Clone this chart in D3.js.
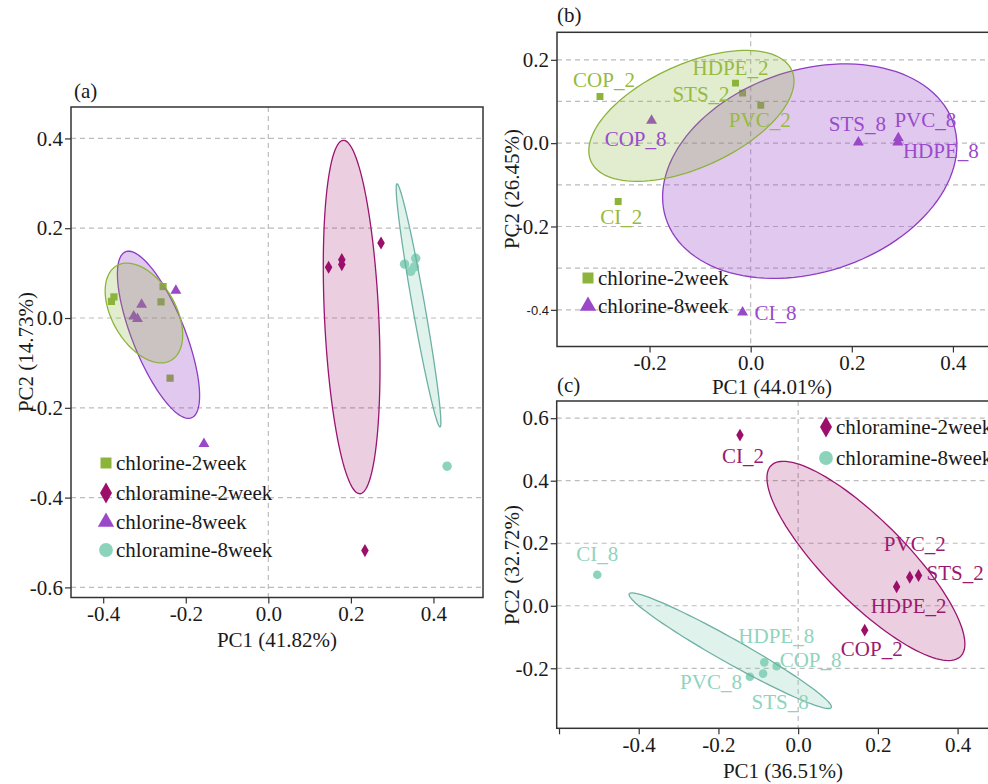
<!DOCTYPE html>
<html>
<head>
<meta charset="utf-8">
<script src="https://cdn.jsdelivr.net/npm/d3@7/dist/d3.min.js"></script>
<style>
  body { margin: 0; background: #fff; }
  svg { display: block; }
</style>
</head>
<body>
<script>
// ---- data ----
var sites = ["CI", "COP", "HDPE", "PVC", "STS"];

// (a) all four groups, PC1 41.82% / PC2 14.73%
var aChlorine2X = [-0.380, -0.374, -0.255, -0.260, -0.238];
var aChlorine2Y = [0.037, 0.047, 0.070, 0.036, -0.134];
var aChloramine2X = [0.146, 0.178, 0.178, 0.273, 0.234];
var aChloramine2Y = [0.113, 0.130, 0.119, 0.167, -0.518];
var aChlorine8X = [-0.224, -0.307, -0.326, -0.317, -0.156];
var aChlorine8Y = [0.061, 0.030, 0.004, -0.002, -0.280];
var aChloramine8X = [0.330, 0.357, 0.345, 0.354, 0.433];
var aChloramine8Y = [0.120, 0.133, 0.104, 0.114, -0.330];

// (b) chlorine, PC1 44.01% / PC2 26.45%  (order = sites)
var bChlorine2X = [-0.262, -0.298, -0.030, 0.020, -0.016];
var bChlorine2Y = [-0.140, 0.112, 0.144, 0.091, 0.120];
var bChlorine8X = [-0.016, -0.196, 0.291, 0.292, 0.213];
var bChlorine8Y = [-0.406, 0.054, 0.002, 0.012, 0.002];

// (c) chloramine, PC1 36.51% / PC2 32.72%  (order = sites)
var cChloramine2X = [-0.146, 0.167, 0.247, 0.280, 0.302];
var cChloramine2Y = [0.546, -0.078, 0.061, 0.091, 0.097];
var cChloramine8X = [-0.504, -0.054, -0.085, -0.121, -0.088];
var cChloramine8Y = [0.099, -0.193, -0.181, -0.227, -0.217];

var aXTicks = [-0.4, -0.2, 0, 0.2, 0.4];
var aYTicks = [-0.6, -0.4, -0.2, 0, 0.2, 0.4];
var bXTicks = [-0.2, 0, 0.2, 0.4];
var bYTicks = [-0.4, -0.2, 0, 0.2];
var bYGrid = [-0.4, -0.3, -0.2, -0.1, 0, 0.1, 0.2];
var cXTicks = [-0.6, -0.4, -0.2, 0, 0.2, 0.4];
var cYTicks = [-0.2, 0, 0.2, 0.4, 0.6];

// ---- styles ----
var col = {
  chlorine2: "#8db43a", chlorine8: "#9a48c8",
  chloramine2: "#9b0f6b", chloramine8: "#8bd3bb"
};
var serif = "'Liberation Serif', 'Times New Roman', serif";
var fs = 21;

var svg = d3.select("body").append("svg")
  .attr("width", 988)
  .attr("height", 784)
  .style("background", "#fff");

function fmt(d) { return d.toFixed(1); }

function makePanel(id, x, y, xTicks, yTicks, yGrid, xHideFirst) {
  var xl = x.range()[0], xr = x.range()[1], yb = y.range()[0], yt = y.range()[1];
  var g = svg.append("g");

  svg.append("clipPath").attr("id", id + "-clip")
    .append("rect")
    .attr("x", xl).attr("y", yt)
    .attr("width", xr - xl).attr("height", yb - yt);

  var plot = g.append("g").attr("clip-path", "url(#" + id + "-clip)");

  plot.selectAll("line.grid").data(yGrid).enter().append("line")
    .attr("x1", xl).attr("x2", xr)
    .attr("y1", function(d) { return y(d); })
    .attr("y2", function(d) { return y(d); })
    .attr("stroke", "#bcbcbc").attr("stroke-width", 1.2)
    .attr("stroke-dasharray", "5,4");
  plot.append("line")
    .attr("x1", x(0)).attr("x2", x(0)).attr("y1", yt).attr("y2", yb)
    .attr("stroke", "#bcbcbc").attr("stroke-width", 1.2)
    .attr("stroke-dasharray", "5,4");

  var xa = g.append("g")
    .attr("transform", "translate(0," + yb + ")")
    .call(d3.axisBottom(x).tickValues(xTicks).tickSize(6).tickPadding(3)
      .tickFormat(function(d, i) { return (xHideFirst && i === 0) ? "" : fmt(d); }));
  var ya = g.append("g")
    .attr("transform", "translate(" + xl + ",0)")
    .call(d3.axisLeft(y).tickValues(yTicks).tickSize(6).tickPadding(2).tickFormat(fmt));

  [xa, ya].forEach(function(a) {
    a.select(".domain").remove();
    a.selectAll("line").attr("stroke", "#333").attr("stroke-width", 1.2);
    a.selectAll("text")
      .attr("fill", "#1a1a1a")
      .style("font-family", serif)
      .style("font-size", fs + "px");
  });

  return { g: g, plot: plot, ya: ya, box: [xl, xr, yt, yb] };
}

function frame(p) {
  var b = p.box;
  p.g.append("rect")
    .attr("x", b[0]).attr("y", b[2])
    .attr("width", b[1] - b[0]).attr("height", b[3] - b[2])
    .attr("fill", "none").attr("stroke", "#333").attr("stroke-width", 1.5);
}

// data ellipse from the points (population covariance, 68% level)
function ellipsePts(xs, ys, level) {
  var n = xs.length, mx = d3.mean(xs), my = d3.mean(ys);
  var sxx = d3.sum(xs, function(d) { return (d - mx) * (d - mx); }) / n;
  var syy = d3.sum(ys, function(d) { return (d - my) * (d - my); }) / n;
  var sxy = d3.sum(xs, function(d, i) { return (d - mx) * (ys[i] - my); }) / n;
  var k = Math.sqrt(-2 * Math.log(1 - level));
  var a = Math.sqrt(sxx), b = sxy / a, c = Math.sqrt(Math.max(syy - b * b, 0));
  return d3.range(120).map(function(i) {
    var t = i / 120 * 2 * Math.PI;
    return [mx + k * a * Math.cos(t), my + k * (b * Math.cos(t) + c * Math.sin(t))];
  });
}

function ellipse(p, x, y, xs, ys, fill, stroke, op) {
  var line = d3.line()
    .x(function(d) { return x(d[0]); })
    .y(function(d) { return y(d[1]); })
    .curve(d3.curveLinearClosed);
  p.plot.append("path")
    .attr("d", line(ellipsePts(xs, ys, 0.68)))
    .attr("fill", fill).attr("fill-opacity", op)
    .attr("stroke", stroke).attr("stroke-width", 1.3);
}

function points(p, x, y, xs, ys, type, size, color) {
  var sym = d3.symbol().type(type).size(size);
  p.plot.selectAll(null).data(xs).enter().append("path")
    .attr("d", sym)
    .attr("transform", function(d, i) { return "translate(" + x(d) + "," + y(ys[i]) + ")"; })
    .attr("fill", color);
}

function labels(p, x, y, xs, ys, suffix, pos, color) {
  p.g.selectAll(null).data(xs).enter().append("text")
    .attr("x", function(d, i) { return x(d) + pos[sites[i]][0]; })
    .attr("y", function(d, i) { return y(ys[i]) + pos[sites[i]][1] + 7; })
    .attr("text-anchor", function(d, i) { return pos[sites[i]][2]; })
    .attr("fill", color)
    .style("font-family", serif)
    .style("font-size", fs + "px")
    .text(function(d, i) { return sites[i] + suffix; });
}

function legend(g, items, x, tx) {
  items.forEach(function(it) {
    g.append("path")
      .attr("d", d3.symbol().type(it.type).size(it.size))
      .attr("transform", "translate(" + x + "," + it.y + ")")
      .attr("fill", it.color);
    g.append("text")
      .attr("x", tx).attr("y", it.y + 7)
      .attr("fill", "#1a1a1a")
      .style("font-family", serif)
      .style("font-size", fs + "px")
      .text(it.text);
  });
}

function text(str, x, y, rotate, anchor) {
  var t = svg.append("text")
    .attr("text-anchor", anchor || "middle")
    .attr("fill", "#1a1a1a")
    .style("font-family", serif)
    .style("font-size", fs + "px")
    .text(str);
  if (rotate) t.attr("transform", "translate(" + x + "," + y + ") rotate(-90)");
  else t.attr("x", x).attr("y", y);
}

// ---- panel (a) ----
var xA = d3.scaleLinear().domain([-0.478, 0.52]).range([71, 483]);
var yA = d3.scaleLinear().domain([-0.6225, 0.47]).range([597.5, 107]);
var pa = makePanel("a", xA, yA, aXTicks, aYTicks, aYTicks, false);

points(pa, xA, yA, aChlorine2X, aChlorine2Y, d3.symbolSquare, 52, col.chlorine2);
points(pa, xA, yA, aChlorine8X, aChlorine8Y, d3.symbolTriangle, 52, col.chlorine8);
points(pa, xA, yA, aChloramine2X, aChloramine2Y, d3.symbolDiamond, 50, col.chloramine2);
pa.plot.selectAll(null).data(aChloramine8X).enter().append("circle")
  .attr("cx", function(d) { return xA(d); })
  .attr("cy", function(d, i) { return yA(aChloramine8Y[i]); })
  .attr("r", 4.7).attr("fill", col.chloramine8);

ellipse(pa, xA, yA, aChlorine8X, aChlorine8Y, col.chlorine8, "#8e3cc4", 0.3);
ellipse(pa, xA, yA, aChlorine2X, aChlorine2Y, col.chlorine2, "#8db43a", 0.25);
ellipse(pa, xA, yA, aChloramine2X, aChloramine2Y, col.chloramine2, "#9b1470", 0.2);
ellipse(pa, xA, yA, aChloramine8X, aChloramine8Y, col.chloramine8, "#6fb0a4", 0.28);

legend(pa.g, [
  { type: d3.symbolSquare, size: 121, y: 463, color: col.chlorine2, text: "chlorine-2week" },
  { type: d3.symbolDiamond, size: 125, y: 493, color: col.chloramine2, text: "chloramine-2week" },
  { type: d3.symbolTriangle, size: 115, y: 522, color: col.chlorine8, text: "chlorine-8week" },
  { type: d3.symbolCircle, size: 150, y: 550, color: col.chloramine8, text: "chloramine-8week" }
], 106, 116);
frame(pa);

text("(a)", 74, 98, false, "start");
text("PC1 (41.82%)", 277, 647);
text("PC2 (14.73%)", 33, 352, true);

// ---- panel (b) ----
var xB = d3.scaleLinear().domain([-0.383, 0.4733]).range([557, 990]);
var yB = d3.scaleLinear().domain([-0.488, 0.266]).range([346.5, 32.3]);
var pb = makePanel("b", xB, yB, bXTicks, bYTicks, bYGrid, false);
pb.ya.selectAll(".tick text")
  .filter(function(d) { return d === -0.4; })
  .style("font-family", "'Liberation Sans', Arial, sans-serif")
  .style("font-size", "13px");

points(pb, xB, yB, bChlorine2X, bChlorine2Y, d3.symbolSquare, 48, col.chlorine2);
points(pb, xB, yB, bChlorine8X, bChlorine8Y, d3.symbolTriangle, 52, col.chlorine8);
ellipse(pb, xB, yB, bChlorine8X, bChlorine8Y, col.chlorine8, "#8e3cc4", 0.3);
ellipse(pb, xB, yB, bChlorine2X, bChlorine2Y, col.chlorine2, "#8db43a", 0.25);

labels(pb, xB, yB, bChlorine2X, bChlorine2Y, "_2", {
  CI: [3, 16, "middle"], COP: [4, -16, "middle"], HDPE: [-5, -15, "middle"],
  PVC: [-1, 15, "middle"], STS: [-13, 1, "end"]
}, "#97bb3c");
labels(pb, xB, yB, bChlorine8X, bChlorine8Y, "_8", {
  CI: [12, 1, "start"], COP: [-16, 18, "middle"], HDPE: [43, 9, "middle"],
  PVC: [27, -18, "middle"], STS: [-1, -18, "middle"]
}, "#9a4bcb");

legend(pb.g, [
  { type: d3.symbolSquare, size: 121, y: 278, color: col.chlorine2, text: "chlorine-2week" },
  { type: d3.symbolTriangle, size: 115, y: 306, color: col.chlorine8, text: "chlorine-8week" }
], 588, 598);
frame(pb);

text("(b)", 557, 22, false, "start");
text("PC1 (44.01%)", 772, 394);
text("PC2 (26.45%)", 519, 189, true);

// ---- panel (c) ----
var xC = d3.scaleLinear().domain([-0.6058, 0.529]).range([556.7, 1009]);
var yC = d3.scaleLinear().domain([-0.392, 0.655]).range([728.3, 401]);
var pc = makePanel("c", xC, yC, cXTicks, cYTicks, cYTicks, true);

points(pc, xC, yC, cChloramine2X, cChloramine2Y, d3.symbolDiamond, 48, col.chloramine2);
pc.plot.selectAll(null).data(cChloramine8X).enter().append("circle")
  .attr("cx", function(d) { return xC(d); })
  .attr("cy", function(d, i) { return yC(cChloramine8Y[i]); })
  .attr("r", 4.3).attr("fill", col.chloramine8);
ellipse(pc, xC, yC, cChloramine2X, cChloramine2Y, col.chloramine2, "#9b1470", 0.2);
ellipse(pc, xC, yC, cChloramine8X, cChloramine8Y, col.chloramine8, "#6fb0a4", 0.28);

labels(pc, xC, yC, cChloramine2X, cChloramine2Y, "_2", {
  CI: [3, 21, "middle"], COP: [7, 19, "middle"], HDPE: [12, 19, "middle"],
  PVC: [5, -33, "middle"], STS: [8, -2, "start"]
}, "#9b1a70");
labels(pc, xC, yC, cChloramine8X, cChloramine8Y, "_8", {
  CI: [0, -21, "middle"], COP: [3, -6, "start"], HDPE: [12, -26, "middle"],
  PVC: [-8, 5, "end"], STS: [17, 28, "middle"]
}, "#8fd4bd");

legend(pc.g, [
  { type: d3.symbolDiamond, size: 125, y: 427, color: col.chloramine2, text: "chloramine-2week" },
  { type: d3.symbolCircle, size: 150, y: 458, color: col.chloramine8, text: "chloramine-8week" }
], 826, 836);
frame(pc);

text("(c)", 557, 392, false, "start");
text("PC1 (36.51%)", 783, 778);
text("PC2 (32.72%)", 519, 565, true);
</script>
</body>
</html>
